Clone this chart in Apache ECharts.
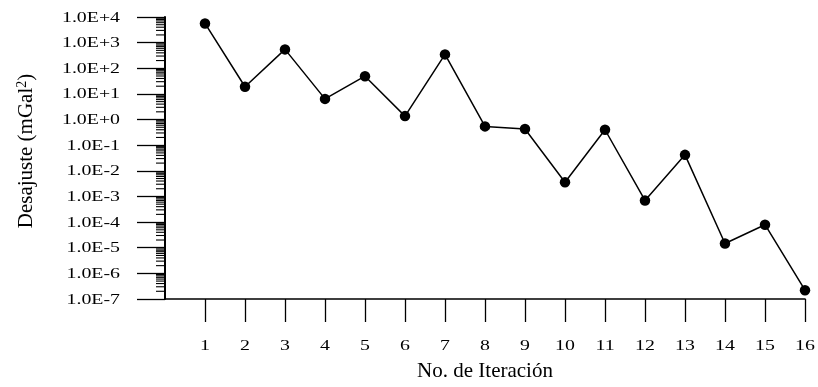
<!DOCTYPE html>
<html>
<head>
<meta charset="utf-8">
<script src="https://cdn.jsdelivr.net/npm/echarts@6/dist/echarts.min.js"></script>
<style>
  html, body { margin: 0; padding: 0; background: #fff; }
  #chart { width: 818px; height: 387px; }
</style>
</head>
<body>
<div id="chart"></div>
<script>
// Iteration number and the misfit reached at each iteration (mGal^2)
const iterations = [1, 2, 3, 4, 5, 6, 7, 8, 9, 10, 11, 12, 13, 14, 15, 16];
const misfit = [5600, 19, 545, 6.4, 49, 1.36, 348, 0.54, 0.43, 0.0036, 0.40, 7.0e-4, 0.042, 1.46e-5, 7.9e-5, 2.2e-7];

// Axis tick values and their printed labels
const yTickValues = [1e4, 1e3, 1e2, 1e1, 1e0, 1e-1, 1e-2, 1e-3, 1e-4, 1e-5, 1e-6, 1e-7];
const yTickLabels = ['1.0E+4', '1.0E+3', '1.0E+2', '1.0E+1', '1.0E+0', '1.0E-1',
                     '1.0E-2', '1.0E-3', '1.0E-4', '1.0E-5', '1.0E-6', '1.0E-7'];
const xTickValues = iterations;
const xTickLabels = ['1', '2', '3', '4', '5', '6', '7', '8', '9', '10', '11', '12', '13', '14', '15', '16'];

const xTitle = 'No. de Iteración';

// Logarithmic minor ticks (2..9 within each decade)
const minorTicks = [];
for (let e = -7; e < 4; e++) {
  for (let k = 2; k <= 9; k++) minorTicks.push([0, k * Math.pow(10, e)]);
}

const FONT = '"Liberation Serif", "Times New Roman", serif';
const INK = '#000';

const chart = echarts.init(document.getElementById('chart'), null, { renderer: 'canvas' });

const option = {
  animation: false,
  backgroundColor: '#fff',
  grid: { left: 165, right: 13, top: 17, bottom: 87, containLabel: false },
  xAxis: {
    type: 'value',
    min: 0,
    max: 16,
    interval: 1,
    name: xTitle,
    nameLocation: 'middle',
    nameGap: 62,
    nameTextStyle: { fontFamily: FONT, fontSize: 21, color: INK },
    axisLine: { show: true, onZero: false, lineStyle: { color: INK, width: 1.6 } },
    axisTick: { show: true, customValues: xTickValues, length: 23, inside: false,
                lineStyle: { color: INK, width: 1.3 } },
    axisLabel: { show: false },
    splitLine: { show: false }
  },
  yAxis: {
    type: 'log',
    logBase: 10,
    min: 1e-7,
    max: 1e4,
    interval: 1,
    name: '{t|Desajuste (mGal}{s|2}{t|)}',
    nameLocation: 'middle',
    nameGap: 128,
    nameRotate: 90,
    nameTextStyle: {
      padding: [0, 0, 0, 14],
      rich: {
        t: { fontFamily: FONT, fontSize: 21, color: INK },
        s: { fontFamily: FONT, fontSize: 14, color: INK, verticalAlign: 'top', padding: [0, 0, 8, 0] }
      }
    },
    axisLine: { show: true, onZero: false, lineStyle: { color: INK, width: 2 } },
    axisTick: { show: true, length: 28, inside: false, lineStyle: { color: INK, width: 1.3 } },
    minorTick: { show: false },
    axisLabel: { show: false },
    splitLine: { show: false }
  },
  series: [
    {
      // minor ticks on the logarithmic axis
      type: 'custom',
      silent: true,
      clip: false,
      z: 3,
      data: minorTicks,
      renderItem: function (params, api) {
        const p = api.coord([0, api.value(1)]);
        return {
          type: 'line',
          shape: { x1: p[0] - 9, y1: p[1], x2: p[0], y2: p[1] },
          style: { stroke: INK, lineWidth: 1.1 }
        };
      }
    },
    {
      type: 'line',
      data: iterations.map((it, i) => [it, misfit[i]]),
      symbol: 'circle',
      symbolSize: 10.5,
      clip: false,
      z: 5,
      lineStyle: { color: INK, width: 1.5 },
      itemStyle: { color: INK, borderWidth: 0 }
    }
  ]
};

chart.setOption(option);

// Tick labels are set in a horizontally widened serif face
const SX = 1.28;
const graphics = [];
yTickValues.forEach((v, i) => {
  const p = chart.convertToPixel({ xAxisIndex: 0, yAxisIndex: 0 }, [0, v]);
  graphics.push({
    type: 'text',
    x: p[0] - 45,
    y: p[1] + 0.5,
    scaleX: SX,
    silent: true,
    style: {
      text: yTickLabels[i],
      fontFamily: FONT, fontSize: 15.5, fill: INK,
      textAlign: 'right', textVerticalAlign: 'middle',
      align: 'right', verticalAlign: 'middle'
    }
  });
});
xTickValues.forEach((v, i) => {
  const p = chart.convertToPixel({ xAxisIndex: 0, yAxisIndex: 0 }, [v, 1e-7]);
  graphics.push({
    type: 'text',
    x: p[0],
    y: p[1] + 47,
    scaleX: SX,
    silent: true,
    style: {
      text: xTickLabels[i],
      fontFamily: FONT, fontSize: 15.5, fill: INK,
      textAlign: 'center', textVerticalAlign: 'middle',
      align: 'center', verticalAlign: 'middle'
    }
  });
});
chart.setOption({ graphic: graphics });
</script>
</body>
</html>
